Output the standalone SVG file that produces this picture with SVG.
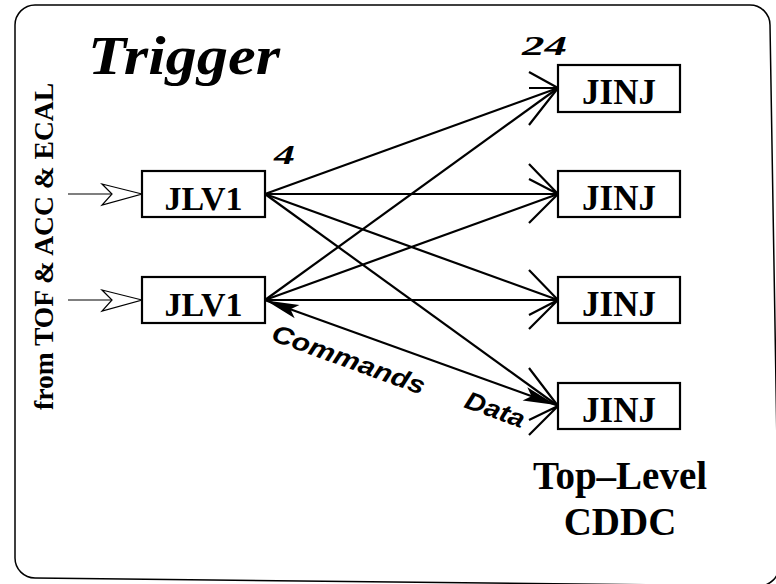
<svg xmlns="http://www.w3.org/2000/svg" width="776" height="584" viewBox="0 0 776 584">
<style>
.box{fill:#fff;stroke:#000;stroke-width:2.2}
.lbl{font-family:"Liberation Serif",serif;font-weight:bold;fill:#000;text-anchor:middle}
.bi{font-family:"Liberation Serif",serif;font-weight:bold;font-style:italic;fill:#000}
.sbi{font-family:"Liberation Sans",sans-serif;font-weight:bold;font-style:italic;fill:#000}
.ln{fill:none;stroke:#000;stroke-width:2.2}
.arm{stroke:#000;stroke-width:2.2;stroke-linecap:butt}
.in{stroke:#000;stroke-width:1.2;fill:none}
.dart{fill:#fff;stroke:#000;stroke-width:1.2;stroke-linejoin:miter}
</style>
<defs>
<marker id="fa" markerUnits="userSpaceOnUse" viewBox="-34 -8 36 16" refX="0" refY="0" markerWidth="36" markerHeight="16" orient="auto-start-reverse">
<path d="M0,0 L-33,-7 L-26,0 L-33,7 Z" fill="#000"/>
</marker>
</defs>
<path d="M35,5 H750 A20,20 0 0 1 770,25 L779,566 A20,20 0 0 1 759,586 L35,578 A20,20 0 0 1 15,558 V25 A20,20 0 0 1 35,5 Z" fill="none" stroke="#000" stroke-width="1.5"/>
<text class="bi" x="88" y="74" font-size="55" textLength="192" lengthAdjust="spacingAndGlyphs">Trigger</text>
<text class="bi" x="274" y="164" font-size="27" textLength="21" lengthAdjust="spacingAndGlyphs">4</text>
<text class="bi" x="522" y="55" font-size="27" textLength="45" lengthAdjust="spacingAndGlyphs">24</text>
<text class="lbl" transform="translate(53,410) rotate(-90)" font-size="28" style="text-anchor:start" textLength="327" lengthAdjust="spacingAndGlyphs">from TOF &amp; ACC &amp; ECAL</text>
<g id="connectors">
<line class="in" x1="68" y1="194" x2="112" y2="194"/>
<path class="dart" d="M142,194 L102,184 L112,194 L102,205 Z"/>
<line class="in" x1="68" y1="300" x2="112" y2="300"/>
<path class="dart" d="M142,300 L102,290 L112,300 L102,311 Z"/>
<line class="ln" x1="265" y1="194" x2="558" y2="88"/>
<line class="ln" x1="265" y1="194" x2="558" y2="194"/>
<line class="ln" x1="265" y1="194" x2="558" y2="300"/>
<line class="ln" x1="265" y1="194" x2="558" y2="406"/>
<line class="ln" x1="265" y1="300" x2="558" y2="88"/>
<line class="ln" x1="265" y1="300" x2="558" y2="194"/>
<line class="ln" x1="265" y1="300" x2="558" y2="300"/>
<line class="ln" x1="266" y1="300.5" x2="556" y2="405" marker-start="url(#fa)" marker-end="url(#fa)"/>
<path class="arm" d="M529,72 L558,88 M529,88 L558,88 M529,125 L558,88"/>
<path class="arm" d="M529,164 L558,194 M529,179 L558,194 M529,223 L558,194"/>
<path class="arm" d="M529,270 L558,300 M529,315 L558,300 M529,329 L558,300"/>
<path class="arm" d="M529,368 L558,406 M529,420 L558,406 M529,435 L558,406"/>
<text class="sbi" transform="translate(270,340) rotate(19.9)" font-size="25" textLength="161" lengthAdjust="spacingAndGlyphs">Commands</text>
<text class="sbi" transform="translate(463,407) rotate(19.9)" font-size="25" textLength="62" lengthAdjust="spacingAndGlyphs">Data</text>
</g>
<g id="jlv1_a"><rect class="box" x="142" y="171" width="123" height="46"/><text class="lbl" x="203.5" y="210" font-size="34">JLV1</text></g>
<g id="jlv1_b"><rect class="box" x="142" y="277" width="123" height="46"/><text class="lbl" x="203.5" y="316" font-size="34">JLV1</text></g>
<g id="jinj_1"><rect class="box" x="558" y="65" width="122" height="47"/><text class="lbl" x="619" y="104" font-size="35">JINJ</text></g>
<g id="jinj_2"><rect class="box" x="558" y="171" width="122" height="46"/><text class="lbl" x="619" y="210" font-size="35">JINJ</text></g>
<g id="jinj_3"><rect class="box" x="558" y="277" width="122" height="46"/><text class="lbl" x="619" y="316" font-size="35">JINJ</text></g>
<g id="jinj_4"><rect class="box" x="558" y="383" width="122" height="46"/><text class="lbl" x="619" y="422" font-size="35">JINJ</text></g>
<g id="cddc_label"><text class="lbl" x="620" y="489" font-size="39">Top–Level</text><text class="lbl" x="620" y="535" font-size="39">CDDC</text></g>
</svg>
